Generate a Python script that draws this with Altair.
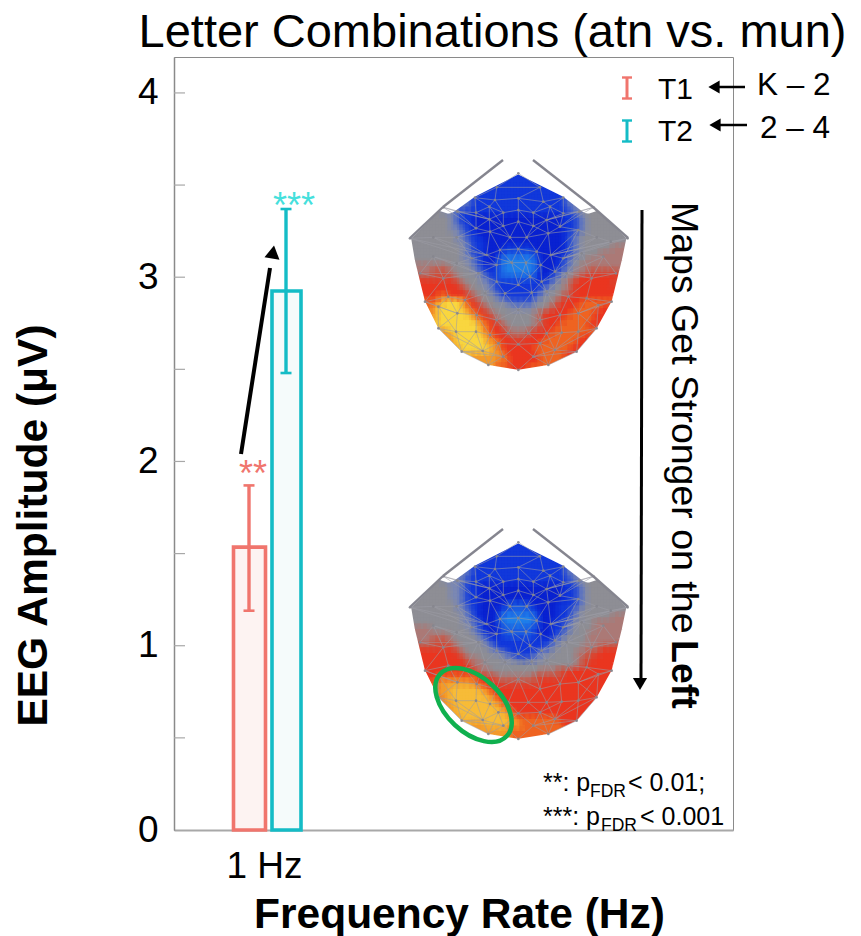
import re
import altair as alt
import pandas as pd

# ---------- values ----------
SERIES = ["T1", "T2"]
MEANS = [1.535, 2.925]
LOWS = [1.19, 2.48]
HIGHS = [1.87, 3.37]
BAR_LEFT = [233.5, 272]
BAR_RIGHT = [265.5, 301]
ERR_X = [249, 286]
SER_STROKE = ["#f0756d", "#14bcc6"]
SER_FILL = ["#fdf3f2", "#f5fbfb"]
Y_MINOR = [0.5, 1, 1.5, 2, 2.5, 3, 3.5, 4]

LEVELS = ["a", "b", "m", "c", "d", "e", "f", "g", "h", "i", "j", "k", "n", "l"]
LEVEL_COLORS = ["#0a22d2", "#1238dc", "#1c5ce2", "#2080ea", "#4060cc", "#7c88b4", "#8f8f96",
                "#ab7a76", "#d24e3c", "#ea3520", "#f06422", "#f49a2c", "#f7bc38", "#f9d640"]

ROW_STARTS = [18, 16, 14, 12, 10, 9, 5, 4, 3, 2, 1, 0, 0, 1, 1, 1, 2, 2, 2, 2, 3, 3, 3, 4, 4, 5, 5, 6, 7, 8, 10, 12, 15]

MAP_TOP = ["b1", "b5", "b9", "b13", "d1b15d1", "e1d1b15d1e1",
    "f1e2d1b18d1e1f3", "f3e1d1b2a15b2d1e1f3", "f4e1d1b2a15b2d1e1f4", "f5e2d1b1a15b2d1e1f5",
    "f7e1d1b2a14b1d1e1f7", "f8e2d1b2a13b1d1e1f8", "f9e1d1b2a3b5a5b1d1e1f5g3",
    "f8e1d1b2a2b1m5b1a4b1d1e1f3g4", "f4f4e2d1b1a2m1c5m1a3b1d1e1f2g2g4",
    "g3g3f3e1d1b1a1b1m1c5m1a3b1d1e1f1g1g1g5", "g2h3g1f3e1d1b2m1c5m1a2b1d1e1f1g1g1h5",
    "h6g1f3e1d1b1m6b1a1b1d1e1f1g1h1i6", "i6h1g1f2e2d1b8d1e1f1g1h1i6h1",
    "i7h1g1f2e1d1b7d1e1f2g1h1i7", "i2j2i3h1g1f2e1d1b5d1e1f2g1h1i7",
    "j2k1l3k1i1h1g1f2e2d4e1f2g1h1i3j5", "j1k1l4k1j1i1h1g1f3e4f2g1h1i3j4i2",
    "k1l5k1j1i1h1g1f6g1h1i4j4i2", "k1l6k1j1i1h1g1f5g1h1i3j5i2",
    "l7k1j1i1h1g1f4g1h1i2j5i2", "k2l5k1j1i2h1g3h1i3j8",
    "k2l5k1j1i2h3i3j6i2", "k1l5k2j1i6j6i2", "k1l5k1j1i5j6i2", "k6j1i5j4i2", "k3j2i5j4", "j2i3j2"]

MAP_BOTTOM = ["b1", "b5", "b9", "b13", "d1b15d1", "e1d1b15d1e1",
    "f1e3d1b17d1e1f3", "f3e2d1b2a14b2d1e1f3", "f4e2d1b2a14b2d1e1f4", "f5e2d1b2a14b2d1e1f5",
    "f7e1d1b2a4b1m3b1a4b3d1e1f6", "f8e2d1b1a3b1m5b1a3b2d1e1f8",
    "f9e1d1b1a3m1c5m1a3b2d1e1f5g3", "f3f5e2d1b1a2m1c5m1a2b2d1e1f3g5",
    "g3f2f4e1d1b1a2b1m5b1a2b2d1e1f3g5", "g3g3f4e1d1b1a1b1m5b1a2b1d1e1f3g6",
    "g2h3g1f4e1d1b10d1e1f4g3g2", "h6g1f4e1d1b8d1e1f4g3h3", "i6h1g1f4e2d1b4d1e2f4g2h2i3",
    "i7h1g2f4e2d3e2f5g1h2i4", "i7h1g2f15g1h1i4", "i8h1g2f8g3h2i7",
    "i2j7i1h2g6h5i8", "j1k6j1i3h7i11", "j1k2n5k1j1i19", "k2n6k1j1i17",
    "j1k1n7k1j1i16", "k2n7k1j1i14", "k1n8k1j1i12", "k1n8k1j7i4", "k3n4k2j7i2", "k5j9", "k2j5"]

MESH = [
    [(355, 70)],
    [(290, 112), (420, 112)],
    [(225, 143), (285, 150), (355, 145), (430, 155), (490, 143)],
    [(130, 172), (172, 185), (228, 188), (268, 170), (310, 188), (355, 180), (400, 188), (450, 170), (490, 190), (538, 185), (580, 172)],
    [(228, 235), (268, 208), (310, 228), (355, 215), (400, 228), (440, 210), (480, 230)],
    [(30, 265), (100, 262), (170, 262), (270, 245), (330, 262), (380, 262), (445, 250), (535, 240), (590, 262), (632, 275), (683, 265)],
    [(215, 325), (260, 315), (300, 300), (355, 297), (410, 305), (452, 315), (490, 325)],
    [(60, 370), (100, 320), (170, 340), (290, 345), (335, 338), (378, 338), (422, 345), (465, 365), (545, 310), (610, 320), (648, 370)],
    [(130, 385), (235, 370), (290, 395), (355, 405), (390, 380), (425, 395), (500, 370), (575, 385)],
    [(75, 455), (145, 440), (195, 450), (255, 430), (315, 430), (395, 428), (440, 425), (505, 440), (560, 445), (635, 455)],
    [(115, 470), (172, 490), (230, 495), (290, 510), (355, 480), (420, 510), (480, 495), (535, 490), (595, 465)],
    [(115, 535), (168, 545), (228, 545), (270, 555), (325, 550), (385, 550), (440, 550), (485, 548), (535, 545), (590, 535)],
    [(185, 605), (248, 603), (295, 580), (355, 583), (420, 580), (465, 600), (530, 605)],
    [(265, 645), (310, 620), (355, 660), (400, 620), (445, 645)],
]

OUTLINE = [(355, 70), (225, 140), (165, 183), (130, 170), (30, 265), (45, 340), (75, 455), (115, 535), (185, 605),
           (265, 645), (355, 660), (445, 645), (530, 605), (590, 535), (635, 455), (665, 340), (683, 265),
           (580, 170), (545, 183), (490, 140), (355, 70)]

# ---------- layout of the plot on the page ----------
PLOT_L, PLOT_T, PLOT_W, PLOT_H = 174, 57, 559, 773
Y_MAX = 4.195
MAP_OFFSET = 369
CELL = 6
MAP_X0, MAP_Y0 = 407, 172
FONT = "Liberation Sans"

PX = lambda f="x": alt.X(f"{f}:Q", scale=alt.Scale(domain=[0, PLOT_W], nice=False, zero=False), axis=None)
PY = lambda f="y": alt.Y(f"{f}:Q", scale=alt.Scale(domain=[PLOT_H, 0], nice=False, zero=False), axis=None)
VY = lambda f: alt.Y(f"{f}:Q", scale=alt.Scale(domain=[0, Y_MAX], nice=False, zero=False), axis=None)


def hx(v):
    return v - PLOT_L


def hy(v):
    return v - PLOT_T


# ---------- topographic maps ----------
def decode(rows, shift):
    out = []
    for r, (start, row) in enumerate(zip(ROW_STARTS, rows)):
        c = start
        for lvl, n in re.findall(r"([a-z])(\d+)", row):
            for _ in range(int(n)):
                out.append(dict(x=hx(MAP_X0 + CELL * c), x2=hx(MAP_X0 + CELL * (c + 1)),
                                y=hy(MAP_Y0 + CELL * r + shift), y2=hy(MAP_Y0 + CELL * (r + 1) + shift),
                                lvl=lvl))
                c += 1
    return out


cells = pd.DataFrame(decode(MAP_TOP, 0) + decode(MAP_BOTTOM, MAP_OFFSET))


def cell_layer(df, grow, opacity):
    d = df.copy()
    d["x"] -= grow
    d["x2"] += grow
    d["y"] -= grow
    d["y2"] += grow
    return alt.Chart(d).mark_rect(strokeWidth=0, opacity=opacity).encode(
        x=PX(), x2="x2:Q", y=PY(), y2="y2:Q",
        color=alt.Color("lvl:N", scale=alt.Scale(domain=LEVELS, range=LEVEL_COLORS), legend=None),
    )


# the same cells, drawn again larger and see-through in both directions, soften the steps between them
maps = [
    cell_layer(cells, 1, 1),
    cell_layer(cells, 4, 0.32),
    cell_layer(cells.iloc[::-1], 4, 0.32),
    cell_layer(cells, 1.5, 0.3),
]

CX, CY = 355, 380
mask_rows = []
for k, sh in enumerate((0, MAP_OFFSET)):
    for i, (a, b) in enumerate(OUTLINE):
        dx, dy = a - CX, b - CY
        d = (dx * dx + dy * dy) ** 0.5
        px = 400 + a / 3 + 9 * dx / d
        py = 150 + b / 3 + 9 * dy / d + sh
        mask_rows.append(dict(x=hx(px), y=hy(py), o=i, m=k))
mask = alt.Chart(pd.DataFrame(mask_rows)).mark_line(color="white", strokeWidth=18, strokeJoin="round").encode(
    x=PX(), y=PY(), order="o:Q", detail="m:N")


def mesh_rows(shift):
    pts = [[(400 + a / 3, 150 + b / 3 + shift) for a, b in row] for row in MESH]
    segs = []
    for i, row in enumerate(pts):
        for p, q in zip(row, row[1:]):
            if abs(p[0] - q[0]) < 50:
                segs.append((p, q))
        if i + 1 < len(pts):
            for p in row:
                near = sorted(pts[i + 1], key=lambda q: (q[0] - p[0]) ** 2 + (q[1] - p[1]) ** 2)[:2]
                segs += [(p, q) for q in near]
    return [dict(x=hx(p[0]), y=hy(p[1]), x2=hx(q[0]), y2=hy(q[1])) for p, q in segs], \
           [dict(x=hx(p[0]), y=hy(p[1])) for row in pts for p in row]


m1, n1 = mesh_rows(0)
m2, n2 = mesh_rows(MAP_OFFSET)
mesh = alt.Chart(pd.DataFrame(m1 + m2)).mark_rule(color="#9c9ca6", strokeWidth=0.8, opacity=0.7).encode(
    x=PX(), x2="x2:Q", y=PY(), y2="y2:Q")
nodes = alt.Chart(pd.DataFrame(n1 + n2)).mark_circle(color="#85858d", size=7, opacity=0.9).encode(x=PX(), y=PY())

# ---------- straight segments (outline, arrows, legend glyphs) ----------
SEGS = []


def seg(x1, y1, x2, y2, color="black", w=1.0):
    SEGS.append(dict(x=hx(x1), y=hy(y1), x2=hx(x2), y2=hy(y2), c=color, w=w))


for sh in (0, MAP_OFFSET):
    seg(503, 160 + sh, 443, 207 + sh, "#85858f", 2.4)
    seg(443, 207 + sh, 410, 238 + sh, "#85858f", 2.4)
    seg(533, 160 + sh, 593, 207 + sh, "#85858f", 2.4)
    seg(593, 207 + sh, 628, 238 + sh, "#85858f", 2.4)

seg(241, 454, 270, 268, "black", 4)
seg(642, 210, 641, 678, "black", 3)
seg(745, 87, 718, 87, "black", 2.5)
seg(747, 125, 720, 125, "black", 2.5)

for yc, col in zip((88, 131), SER_STROKE):
    seg(627, yc - 10.5, 627, yc + 10.5, col, 3)
    seg(622, yc - 10.5, 632, yc - 10.5, col, 2.4)
    seg(622, yc + 10.5, 632, yc + 10.5, col, 2.4)

segs = alt.Chart(pd.DataFrame(SEGS)).mark_rule().encode(
    x=PX(), x2="x2:Q", y=PY(), y2="y2:Q",
    color=alt.Color("c:N", scale=None), strokeWidth=alt.StrokeWidth("w:Q", scale=None))

HEADS = [
    (273, 252, "triangle-up", 9, 230),
    (640, 684, "triangle-down", 0, 200),
    (714, 87, "triangle-left", 0, 170),
    (715, 125, "triangle-left", 0, 170),
]
heads = alt.Chart(pd.DataFrame([dict(x=hx(a), y=hy(b), s=s, ang=g, sz=z) for a, b, s, g, z in HEADS])).mark_point(
    filled=True, color="black", opacity=1).encode(
    x=PX(), y=PY(), shape=alt.Shape("s:N", scale=None), angle=alt.Angle("ang:Q", scale=None),
    size=alt.Size("sz:Q", scale=None))

ellipse = alt.Chart(pd.DataFrame([dict(x=hx(473.5), y=hy(705))])).mark_point(
    shape="M -1 0 A 1 0.6 0 1 1 1 0 A 1 0.6 0 1 1 -1 0 Z",
    size=8300, angle=43, stroke="#10b04e", strokeWidth=4.5, fillOpacity=0, opacity=1, filled=False,
).encode(x=PX(), y=PY())

# ---------- left ticks ----------
ticks = alt.Chart(pd.DataFrame({"v": Y_MINOR, "a": [0] * len(Y_MINOR), "b": [11] * len(Y_MINOR)})).mark_rule(
    color="#a8a8a8", strokeWidth=1.2).encode(x=PX("a"), x2="b:Q", y=VY("v"))

# ---------- bars with the real axes ----------
bars_df = pd.DataFrame(dict(s=SERIES, l=[hx(v) for v in BAR_LEFT], r=[hx(v) for v in BAR_RIGHT], m=MEANS,
                            z=[0, 0], st=SER_STROKE, fl=SER_FILL))
bars = alt.Chart(bars_df).mark_rect(strokeWidth=3.6).encode(
    x=alt.X("l:Q", scale=alt.Scale(domain=[0, PLOT_W], nice=False, zero=False),
            axis=alt.Axis(values=[90], labelExpr="'1 Hz'", title="Frequency Rate (Hz)", ticks=False, grid=False,
                          domainColor="#a8a8a8", domainWidth=2, labelFontSize=37, labelColor="black", labelPadding=18,
                          labelFont=FONT, titleFont=FONT, titleFontSize=42.5, titleFontWeight="bold", titleColor="black",
                          titleX=285, titleY=84, titleBaseline="middle", titleAnchor="middle")),
    x2="r:Q",
    y=alt.Y("m:Q", scale=alt.Scale(domain=[0, Y_MAX], nice=False, zero=False),
            axis=alt.Axis(values=[0, 1, 2, 3, 4], title="EEG Amplitude (μV)", ticks=False, grid=False,
                          domainColor="#8a8a8a", domainWidth=1.5, labelFontSize=37, labelColor="black", labelPadding=16,
                          labelFont=FONT, titleFont=FONT, titleFontSize=42.5, titleFontWeight="bold", titleColor="black",
                          titleX=-141, titleY=468, titleBaseline="middle", titleAnchor="middle", labelFlush=False)),
    y2="z:Q",
    stroke=alt.Stroke("st:N", scale=None), fill=alt.Fill("fl:N", scale=None))

err_df = pd.DataFrame(dict(x=[hx(v) for v in ERR_X], lo=LOWS, hi=HIGHS, st=SER_STROKE))
err_df["a"] = err_df.x - 5.5
err_df["b"] = err_df.x + 5.5
err = alt.Chart(err_df).mark_rule(strokeWidth=3.4).encode(
    x=PX(), y=VY("lo"), y2="hi:Q", color=alt.Color("st:N", scale=None))
cap1 = alt.Chart(err_df).mark_rule(strokeWidth=2.6).encode(
    x=PX("a"), x2="b:Q", y=VY("lo"), color=alt.Color("st:N", scale=None))
cap2 = alt.Chart(err_df).mark_rule(strokeWidth=2.6).encode(
    x=PX("a"), x2="b:Q", y=VY("hi"), color=alt.Color("st:N", scale=None))


# ---------- text ----------
def txt(t, x, y, size, color="black", weight="normal", align="left", angle=0):
    return alt.Chart(pd.DataFrame([dict(x=hx(x), y=hy(y), t=t)])).mark_text(
        font=FONT, fontSize=size, color=color, fontWeight=weight, align=align, baseline="alphabetic", angle=angle,
    ).encode(x=PX(), y=PY(), text="t:N")


texts = [
    txt("***", 294, 218, 36, "#45e0dc", align="center"),
    txt("**", 253, 486, 36, "#f0756d", align="center"),
    txt("T1", 658, 99, 30),
    txt("T2", 658, 141, 30),
    txt("K – 2", 757, 95, 31.5),
    txt("2 – 4", 760, 138, 31.5),
    txt("Maps Get Stronger on the ", 672, 202, 37.5, angle=90),
    txt("Left", 672, 640, 37.5, weight="bold", angle=90),
    txt("**: p", 543, 791, 25),
    txt("FDR", 590, 797, 17.5),
    txt("< 0.01;", 628, 791, 25),
    txt("***: p", 543, 825, 25),
    txt("FDR", 601, 831, 17.5),
    txt("< 0.001", 640, 825, 25),
]

chart = alt.layer(
    *maps, mask, mesh, nodes, ticks, bars, err, cap1, cap2, segs, heads, ellipse, *texts
).resolve_scale(x="independent", y="independent", color="independent", stroke="independent", fill="independent",
                size="independent", shape="independent", angle="independent").properties(
    width=PLOT_W, height=PLOT_H,
    title=alt.Title("Letter Combinations (atn vs. mun)", font=FONT, fontSize=47, fontWeight="normal", color="black",
                    anchor="middle", dx=39, offset=0),
    padding={"left": PLOT_L - 8, "top": PLOT_T - 8, "right": 845 - (PLOT_L - 8) - PLOT_W, "bottom": 928 - (PLOT_T - 8) - PLOT_H},
    autosize=alt.AutoSizeParams(type="none"),
).configure_view(stroke="#8a8a8a", strokeWidth=1)

chart.save("out.html", embed_options={"renderer": "svg", "actions": False})
